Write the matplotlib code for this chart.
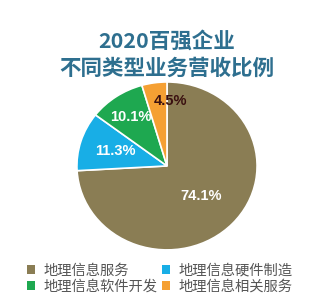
import matplotlib.pyplot as plt
from matplotlib.patches import Patch

plt.rcParams['font.family'] = ['Noto Sans CJK SC', 'DejaVu Sans']

# 数据
categories = ["地理信息服务", "地理信息硬件制造", "地理信息软件开发", "地理信息相关服务"]
values = [74.1, 11.3, 10.1, 4.5]
colors = ["#8a7d54", "#18aee6", "#1ea850", "#f5a033"]
label_colors = ["white", "white", "white", "#3a1010"]
label_dist = [0.52, 0.6, 0.71, 0.78]

fig = plt.figure(figsize=(3.33, 3.07), dpi=100)
fig.patch.set_facecolor("white")

ax = fig.add_axes([0.231, 0.186, 0.541, 0.547])
wedges, texts, autotexts = ax.pie(values, colors=colors, startangle=90, counterclock=False,
                                  autopct="%.1f%%", pctdistance=0.6,
                                  wedgeprops=dict(edgecolor="white", linewidth=1.2),
                                  textprops=dict(family="Liberation Sans", fontweight="bold", fontsize=10.5))
for t, c, d in zip(autotexts, label_colors, label_dist):
    x, y = t.get_position()
    t.set_position((x * d / 0.6, y * d / 0.6))
    t.set_color(c)
autotexts[3].set_position((autotexts[3].get_position()[0] + 0.15, autotexts[3].get_position()[1]))
ax.set_aspect("auto")
ax.set_xlim(-1.0, 1.0)
ax.set_ylim(-1.0, 1.0)

fig.text(0.5, 0.866, "2020百强企业", ha="center", va="center", fontsize=15.5,
         fontweight="bold", color="#2e6f8f")
fig.text(0.5, 0.779, "不同类型业务营收比例", ha="center", va="center", fontsize=15.5,
         fontweight="bold", color="#2e6f8f")

handles = [Patch(facecolor=c) for c in colors]
order = [0, 2, 1, 3]
fig.legend([handles[i] for i in order], [categories[i] for i in order], ncol=2,
           loc="center", bbox_to_anchor=(0.48, 0.093), frameon=False, fontsize=10.3,
           handlelength=0.55, handleheight=0.55, handletextpad=0.6, columnspacing=0.3,
           labelspacing=0.12, labelcolor="#555555")

fig.savefig("out.png", dpi=100, facecolor="white")
